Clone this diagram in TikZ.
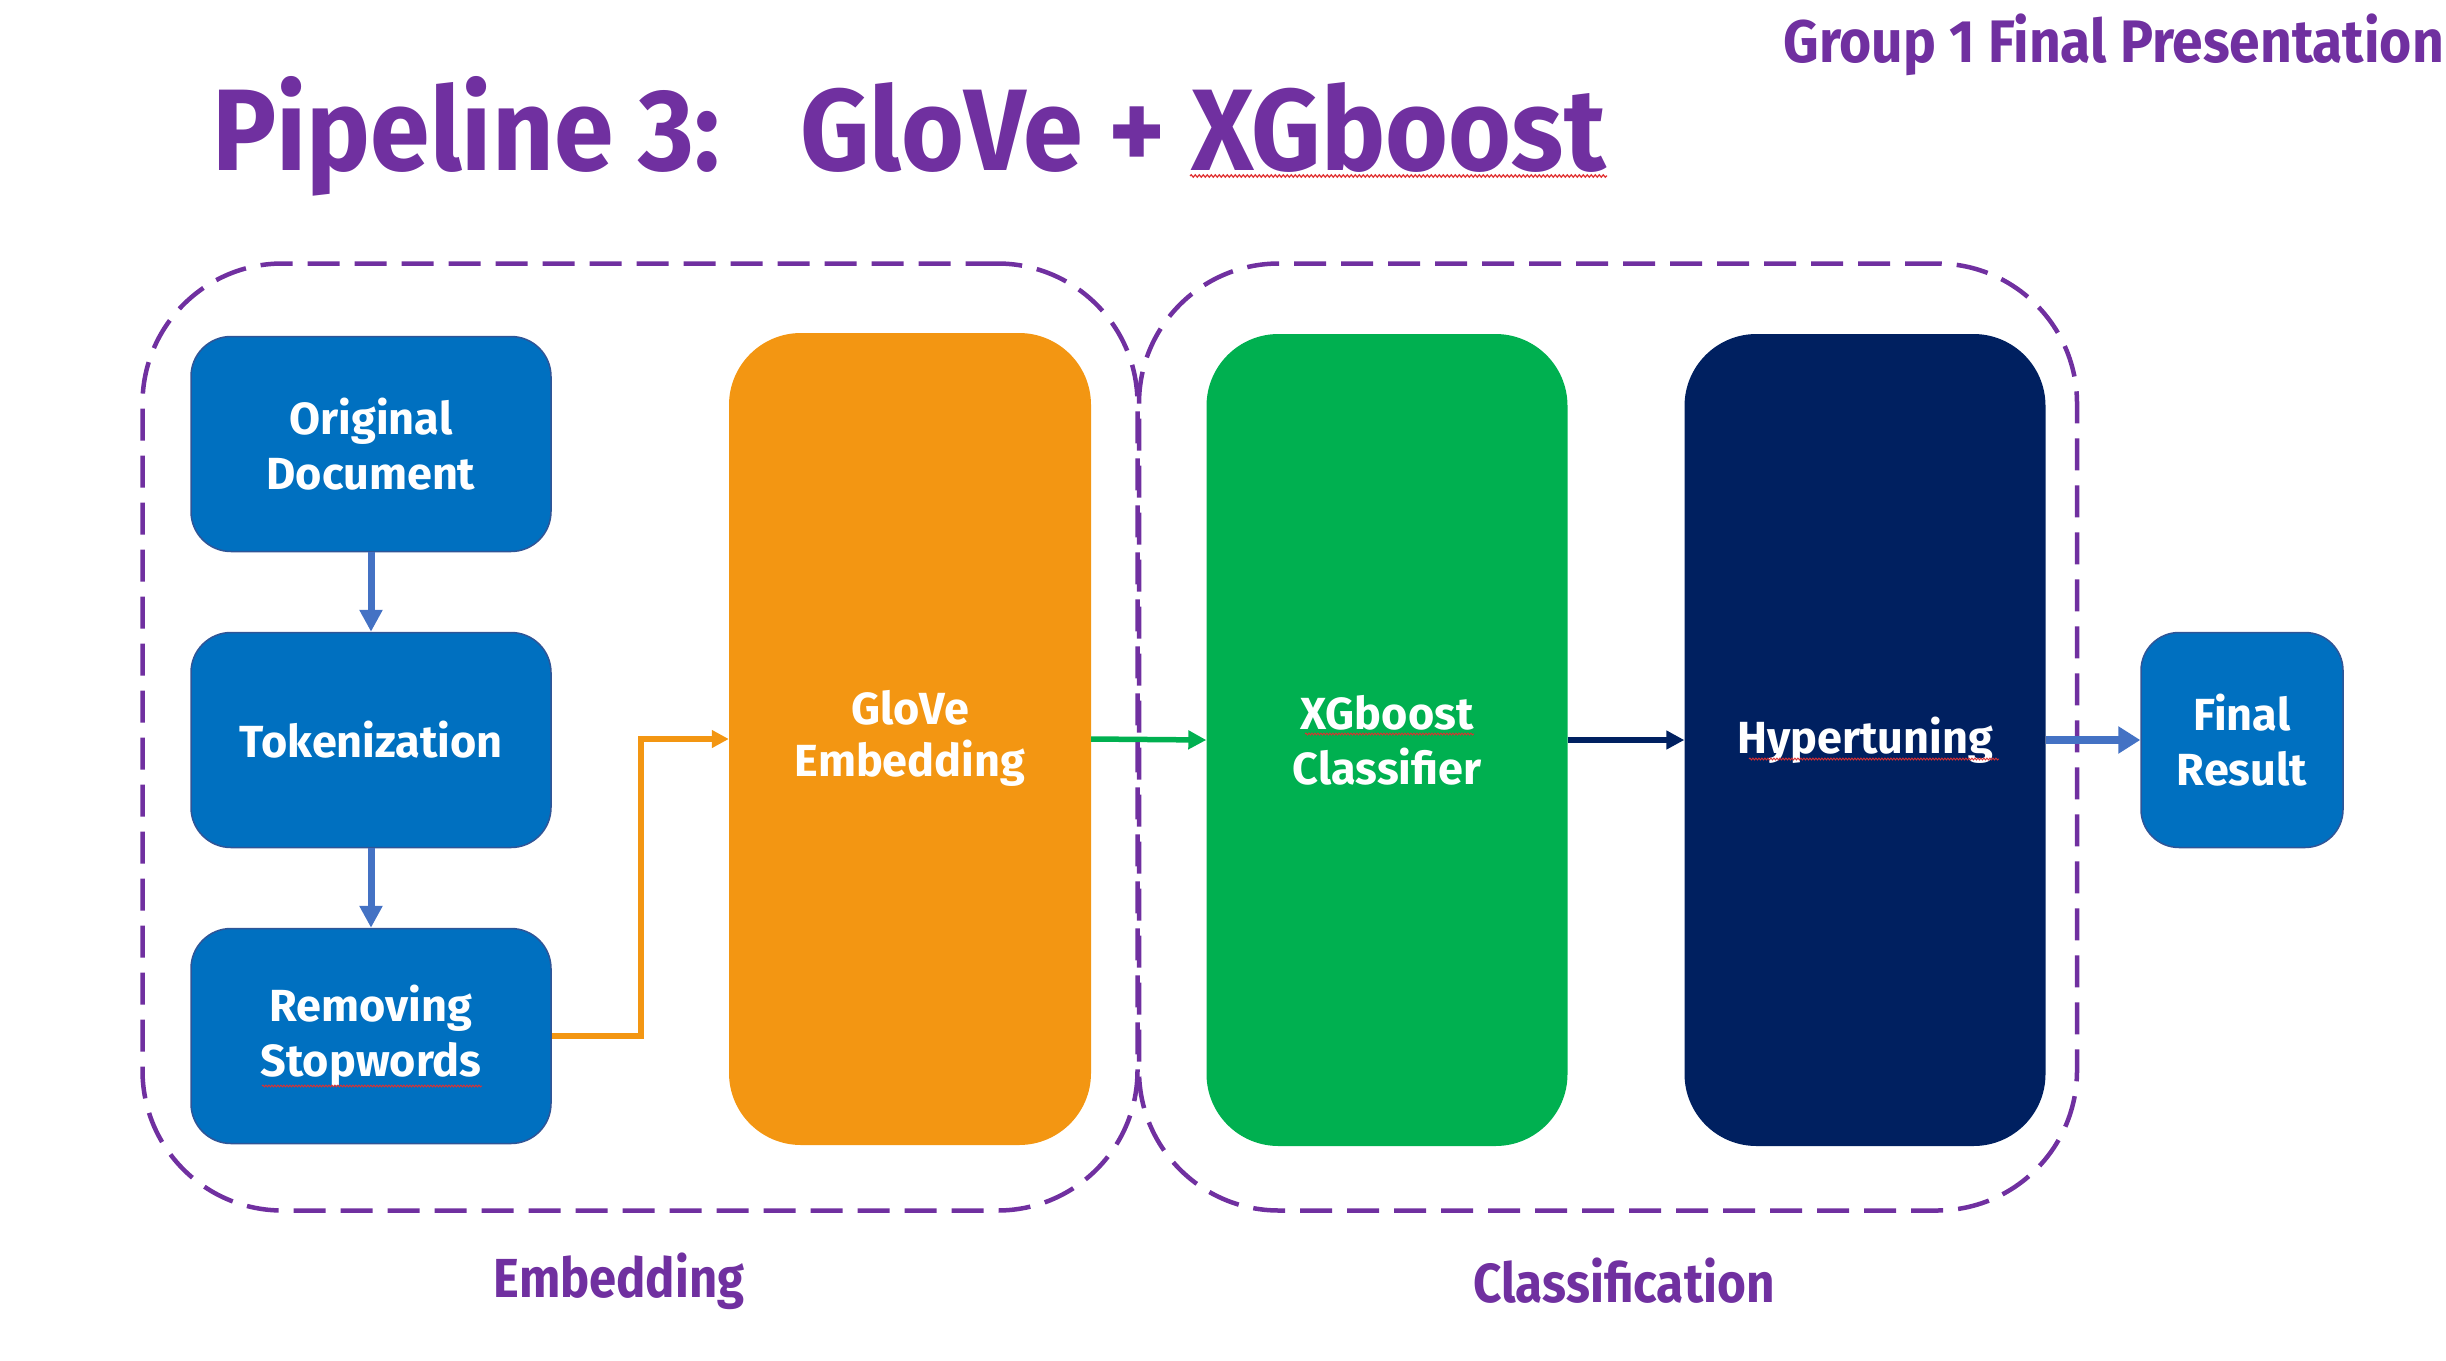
\documentclass[tikz,border=0pt]{standalone}
\usepackage{fontspec}
\setmainfont{Fira Sans}
\usetikzlibrary{arrows.meta,decorations.pathmorphing}
\definecolor{purp}{HTML}{7030A0}
\definecolor{boxblue}{HTML}{0070C0}
\definecolor{boxedge}{HTML}{2F5597}
\definecolor{arrblue}{HTML}{4472C4}
\definecolor{orng}{HTML}{F39612}
\definecolor{grn}{HTML}{00B050}
\definecolor{navy}{HTML}{002060}
\definecolor{squig}{HTML}{E03030}
\begin{document}
\begin{tikzpicture}[x=1pt,y=-1pt,
  bluebox/.style={draw=boxedge,line width=1.5pt,fill=boxblue,rounded corners=40pt,
    minimum width=360pt,minimum height=215pt,text=white,align=center,
    font=\bfseries\fontsize{45}{55}\selectfont},
  bigbox/.style={rounded corners=72pt,minimum width=362pt,minimum height=812pt,
    text=white,align=center,font=\bfseries\fontsize{45}{55}\selectfont},
  dashbox/.style={draw=purp,line width=4.5pt,dash pattern=on 32pt off 15pt,
    rounded corners=140pt},
  grouplabel/.style={text=purp,font=\bfseries\fontsize{55}{60}\selectfont},
  bluearrow/.style={draw=arrblue,line width=7pt,-{Triangle[length=22pt,width=22pt]}},
  thickarrow/.style={draw=arrblue,line width=8pt,-{Triangle[length=22pt,width=26pt]}},
  orangearrow/.style={draw=orng,line width=5.5pt,-{Triangle[length=17pt,width=17pt]}},
  greenarrow/.style={draw=grn,line width=5.5pt,-{Triangle[length=18pt,width=18pt]}},
  navyarrow/.style={draw=navy,line width=5.5pt,-{Triangle[length=18pt,width=18pt]}},
  squiggle/.style={draw=squig,line width=1.2pt,decorate,
    decoration={snake,amplitude=1.2pt,segment length=4pt}},
  smallsquiggle/.style={squiggle,line width=0.9pt,decoration={snake,amplitude=0.9pt,segment length=3pt}}
]
\useasboundingbox (0,0) rectangle (2446,1360);

% titles
\node[anchor=base west,inner sep=0,text=purp,font=\bfseries\fontsize{116}{120}\selectfont]
  (t1) at (212,170) {\scalebox{0.925}[1]{Pipeline 3:}};
\node[anchor=base west,inner sep=0,text=purp,font=\bfseries\fontsize{116}{120}\selectfont]
  (t2) at (800,170) {\scalebox{0.93}[1]{GloVe + XGboost}};
\node[anchor=base east,inner sep=0,text=purp,font=\bfseries\fontsize{60}{64}\selectfont]
  (grp) at (2444,62) {\scalebox{0.92}[1]{Group 1 Final Presentation}};

% dashed groups
\node[dashbox,minimum width=995pt,minimum height=947pt] (emb) at (640,737) {};
\node[dashbox,minimum width=938pt,minimum height=947pt] (cls) at (1608,737) {};
\node[grouplabel] (embl) at (619,1281) {\scalebox{0.89}[1]{Embedding}};
\node[grouplabel] (clsl) at (1624,1281) {\scalebox{0.9}[1]{Classification}};

% boxes
\node[bluebox] (orig) at (371,444) {Original\\Document};
\node[bluebox] (tok) at (371,740) {Tokenization};
\node[bluebox] (rem) at (371,1036) {Removing\\Stopwords};
\node[bigbox,fill=orng] (glove) at (910,739) {\raisebox{-6pt}{\begin{tabular}{@{}c@{}}GloVe\\[-3pt]Embedding\end{tabular}}};
\node[bigbox,fill=grn,minimum width=361pt] (xgb) at (1387,740) {XGboost\\Classifier};
\node[bigbox,fill=navy,minimum width=361pt] (hyp) at (1865,740) {Hypertuning};
\node[bluebox,minimum width=202pt,rounded corners=38pt] (final) at (2242,740) {Final\\Result};

% spell-check squiggles
\coordinate (sq1a) at (1190,176); \coordinate (sq1b) at (1607,176);
\draw[squiggle] (sq1a) -- (sq1b);
\coordinate (sq2a) at (262,1086); \coordinate (sq2b) at (482,1086);
\draw[smallsquiggle] (sq2a) -- (sq2b);
\coordinate (sq3a) at (1305,734); \coordinate (sq3b) at (1474,734);
\draw[smallsquiggle] (sq3a) -- (sq3b);
\coordinate (sq4a) at (1749,759); \coordinate (sq4b) at (1999,759);
\draw[smallsquiggle] (sq4a) -- (sq4b);

% connectors
\draw[bluearrow] (orig.south) -- (tok.north);
\draw[bluearrow] (tok.south) -- (rem.north);
\draw[orangearrow] (rem.east) -- ++(89,0) |- (glove.west);
\draw[greenarrow] (glove.east) -- (xgb.west);
\draw[navyarrow] (xgb.east) -- (hyp.west);
\draw[thickarrow] (hyp.east) -- (final.west);
\end{tikzpicture}
\end{document}
